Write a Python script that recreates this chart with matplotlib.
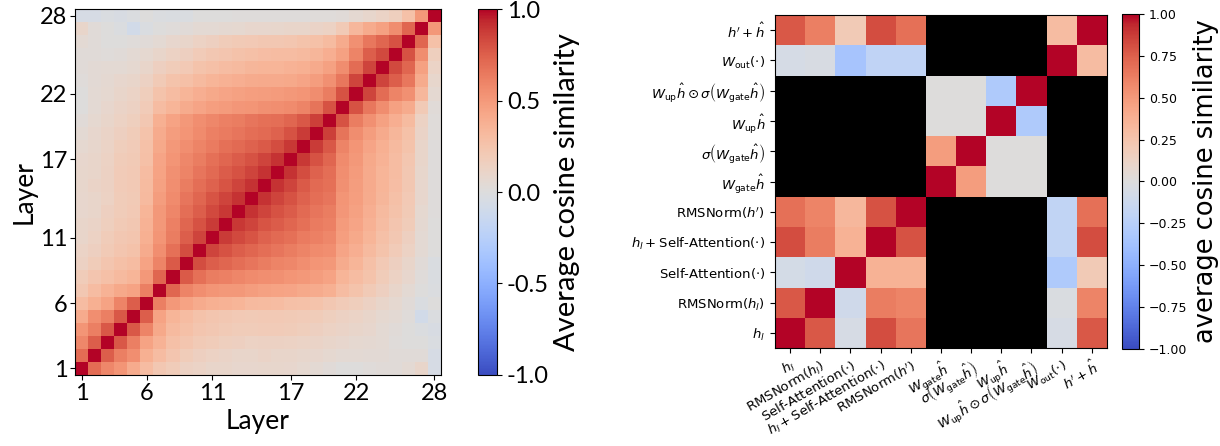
import numpy as np
import matplotlib
matplotlib.use('Agg')
from matplotlib import pyplot as plt

# layer-by-layer cosine similarity, lower triangle (row k holds layers 1..k-1 against layer k+1)
layer_rows = [
    [0.70],
    [0.58, 0.75],
    [0.52, 0.62, 0.78],
    [0.40, 0.55, 0.62, 0.78],
    [0.30, 0.38, 0.45, 0.60, 0.75],
    [0.22, 0.30, 0.36, 0.42, 0.45, 0.62],
    [0.18, 0.24, 0.28, 0.32, 0.35, 0.50, 0.72],
    [0.14, 0.18, 0.24, 0.28, 0.30, 0.45, 0.60, 0.77],
    [0.12, 0.15, 0.20, 0.24, 0.26, 0.40, 0.55, 0.68, 0.82],
    [0.10, 0.13, 0.18, 0.22, 0.24, 0.38, 0.52, 0.63, 0.75, 0.85],
    [0.10, 0.11, 0.16, 0.20, 0.22, 0.36, 0.50, 0.61, 0.72, 0.80, 0.88],
    [0.08, 0.10, 0.15, 0.18, 0.21, 0.35, 0.50, 0.59, 0.69, 0.75, 0.83, 0.89],
    [0.08, 0.10, 0.13, 0.18, 0.20, 0.32, 0.48, 0.57, 0.66, 0.72, 0.79, 0.85, 0.90],
    [0.09, 0.11, 0.14, 0.19, 0.21, 0.31, 0.46, 0.55, 0.63, 0.69, 0.74, 0.79, 0.85, 0.90],
    [0.09, 0.10, 0.14, 0.19, 0.21, 0.30, 0.45, 0.54, 0.60, 0.66, 0.71, 0.76, 0.80, 0.85, 0.90],
    [0.08, 0.10, 0.13, 0.18, 0.20, 0.28, 0.44, 0.52, 0.58, 0.63, 0.68, 0.72, 0.76, 0.80, 0.85, 0.90],
    [0.07, 0.09, 0.12, 0.17, 0.19, 0.27, 0.42, 0.50, 0.55, 0.60, 0.64, 0.68, 0.71, 0.74, 0.77, 0.82, 0.89],
    [0.05, 0.08, 0.11, 0.15, 0.18, 0.25, 0.40, 0.48, 0.52, 0.57, 0.61, 0.64, 0.66, 0.69, 0.71, 0.74, 0.80, 0.88],
    [0.03, 0.07, 0.10, 0.13, 0.16, 0.22, 0.38, 0.45, 0.50, 0.55, 0.58, 0.61, 0.63, 0.66, 0.68, 0.69, 0.72, 0.78, 0.86],
    [0.00, 0.05, 0.08, 0.11, 0.14, 0.19, 0.30, 0.35, 0.40, 0.44, 0.47, 0.49, 0.51, 0.52, 0.54, 0.55, 0.57, 0.60, 0.67, 0.80],
    [0.00, 0.05, 0.07, 0.10, 0.12, 0.17, 0.25, 0.30, 0.35, 0.39, 0.42, 0.44, 0.46, 0.47, 0.48, 0.49, 0.50, 0.52, 0.56, 0.63, 0.80],
    [0.02, 0.04, 0.06, 0.08, 0.10, 0.14, 0.20, 0.25, 0.28, 0.32, 0.35, 0.37, 0.39, 0.40, 0.41, 0.41, 0.42, 0.44, 0.48, 0.54, 0.65, 0.85],
    [0.03, 0.04, 0.05, 0.05, 0.07, 0.10, 0.15, 0.18, 0.21, 0.25, 0.28, 0.30, 0.32, 0.34, 0.35, 0.35, 0.36, 0.38, 0.41, 0.46, 0.56, 0.70, 0.85],
    [0.03, 0.03, 0.02, 0.03, 0.05, 0.07, 0.10, 0.13, 0.15, 0.19, 0.22, 0.24, 0.26, 0.28, 0.29, 0.30, 0.30, 0.32, 0.34, 0.39, 0.46, 0.60, 0.75, 0.83],
    [0.05, 0.03, 0.00, 0.00, 0.02, 0.03, 0.05, 0.08, 0.10, 0.13, 0.15, 0.18, 0.20, 0.21, 0.22, 0.22, 0.23, 0.25, 0.27, 0.31, 0.40, 0.54, 0.65, 0.72, 0.80],
    [0.10, 0.03, 0.00, -0.02, -0.08, -0.03, 0.00, 0.02, 0.03, 0.05, 0.05, 0.06, 0.07, 0.08, 0.08, 0.09, 0.10, 0.10, 0.11, 0.13, 0.20, 0.33, 0.40, 0.46, 0.56, 0.72],
    [-0.05, -0.05, -0.03, -0.04, -0.02, 0.00, -0.02, -0.03, -0.03, 0.00, 0.00, 0.00, 0.01, 0.01, 0.01, 0.01, 0.01, 0.01, 0.02, 0.02, 0.03, 0.06, 0.09, 0.12, 0.16, 0.27, 0.50],
]
layer_ticks = [1, 6, 11, 17, 22, 28]

# similarity between sub-module outputs inside one block (nan = not compared)
module_labels = [
    r'$h_l$',
    r'RMSNorm$(h_l)$',
    r'Self-Attention$(\cdot)$',
    r'$h_l+$Self-Attention$(\cdot)$',
    r"RMSNorm$(h')$",
    r'$W_{\rm gate}\hat{h}$',
    r'$\sigma\left(W_{\rm gate}\hat{h}\right)$',
    r'$W_{\rm up}\hat{h}$',
    r'$W_{\rm up}\hat{h}\odot\sigma\left(W_{\rm gate}\hat{h}\right)$',
    r'$W_{\rm out}(\cdot)$',
    r"$h'+\hat{h}$",
]
nan = np.nan
module_sim = [
    [1.00, 0.78, -0.05, 0.82, 0.66, nan, nan, nan, nan, -0.05, 0.78],
    [0.78, 1.00, -0.10, 0.63, 0.60, nan, nan, nan, nan, -0.03, 0.60],
    [-0.07, -0.10, 1.00, 0.36, 0.36, nan, nan, nan, nan, -0.30, 0.20],
    [0.82, 0.63, 0.36, 1.00, 0.80, nan, nan, nan, nan, -0.19, 0.82],
    [0.68, 0.60, 0.33, 0.80, 1.00, nan, nan, nan, nan, -0.19, 0.68],
    [nan, nan, nan, nan, nan, 1.00, 0.48, 0.00, 0.00, nan, nan],
    [nan, nan, nan, nan, nan, 0.48, 1.00, 0.00, 0.00, nan, nan],
    [nan, nan, nan, nan, nan, 0.00, 0.00, 1.00, -0.30, nan, nan],
    [nan, nan, nan, nan, nan, 0.00, 0.00, -0.30, 1.00, nan, nan],
    [-0.06, -0.04, -0.35, -0.20, -0.20, nan, nan, nan, nan, 1.00, 0.30],
    [0.78, 0.62, 0.20, 0.82, 0.68, nan, nan, nan, nan, 0.30, 1.00],
]

n = len(layer_rows) + 1
layer_sim = np.eye(n)
for i, row in enumerate(layer_rows, start=1):
    layer_sim[i, :i] = row
    layer_sim[:i, i] = row

fig = plt.figure(figsize=(12.2, 4.46), dpi=100)
lfont = 'Lato'

# left: layer x layer
ax1 = fig.add_axes([0.0615, 0.1592, 0.3, 0.8206])
im1 = ax1.imshow(layer_sim, cmap='coolwarm', vmin=-1, vmax=1, origin='lower', aspect='auto')
ax1.set_xticks([t - 1 for t in layer_ticks])
ax1.set_yticks([t - 1 for t in layer_ticks])
ax1.set_xticklabels(layer_ticks, family=lfont, fontsize=17)
ax1.set_yticklabels(layer_ticks, family=lfont, fontsize=17)
ax1.set_xlabel('Layer', family=lfont, fontsize=19, labelpad=4)
ax1.set_ylabel('Layer', family=lfont, fontsize=19, labelpad=2)
ax1.tick_params(pad=2)

cax1 = fig.add_axes([0.3918, 0.1592, 0.0156, 0.8206])
cb1 = fig.colorbar(im1, cax=cax1)
cb1.set_ticks([-1, -0.5, 0, 0.5, 1])
cb1.set_ticklabels(['-1.0', '-0.5', '0.0', '0.5', '1.0'], family=lfont, fontsize=17)
cb1.set_label('Average cosine similarity', family=lfont, fontsize=21, labelpad=4)

# right: module x module
cmap = plt.get_cmap('coolwarm').copy()
cmap.set_bad('black')
ax2 = fig.add_axes([0.6352, 0.2197, 0.2721, 0.7466])
im2 = ax2.imshow(np.ma.masked_invalid(np.array(module_sim)), cmap=cmap, vmin=-1, vmax=1,
                 origin='lower', aspect='auto')
ax2.set_xticks(range(len(module_labels)))
ax2.set_yticks(range(len(module_labels)))
ax2.set_xticklabels(module_labels, rotation=30, ha='right', rotation_mode='anchor', fontsize=9.5)
ax2.set_yticklabels(module_labels, fontsize=9.5)

cax2 = fig.add_axes([0.9197, 0.2175, 0.0139, 0.7511])
cb2 = fig.colorbar(im2, cax=cax2)
cb2.set_ticks(np.arange(-1, 1.01, 0.25))
cb2.ax.tick_params(labelsize=9)
cb2.set_label('average cosine similarity', fontsize=18.5)

fig.savefig('out.png', dpi=100)
